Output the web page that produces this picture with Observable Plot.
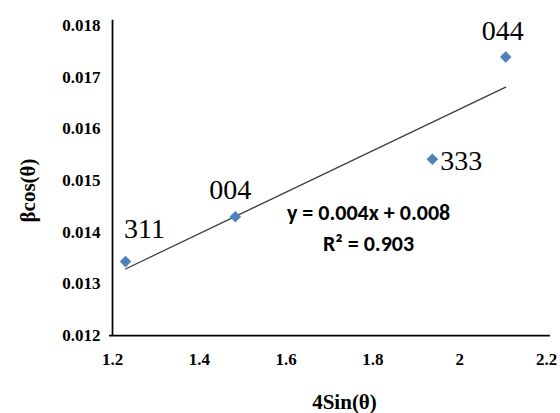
<!DOCTYPE html>
<html>
<head>
<meta charset="utf-8">
<script src="https://cdn.jsdelivr.net/npm/d3@7"></script>
<script src="https://cdn.jsdelivr.net/npm/@observablehq/plot@0.6"></script>
<style>
  html, body { margin: 0; padding: 0; background: #fff; }
  #chart svg { display: block; }
</style>
</head>
<body>
<div id="chart"></div>
<script>
// Williamson–Hall data: reflection, 4 sin(θ) and β cos(θ)
const reflections = ["311", "004", "333", "044"];
const fourSinTheta = [1.230, 1.483, 1.937, 2.106];
const betaCosTheta = [0.01343, 0.01430, 0.01541, 0.01739];

const xTicks = [1.2, 1.4, 1.6, 1.8, 2, 2.2];
const xTickLabels = ["1.2", "1.4", "1.6", "1.8", "2", "2.2"];
const yTicks = [0.012, 0.013, 0.014, 0.015, 0.016, 0.017, 0.018];
const yTickLabels = ["0.012", "0.013", "0.014", "0.015", "0.016", "0.017", "0.018"];

const fitLabel = ["y = 0.004x + 0.008", "R² = 0.903"];
const xTitle = "4Sin(θ)";
const yTitle = "βcos(θ)";

const points = reflections.map((hkl, i) => ({hkl, x: fourSinTheta[i], y: betaCosTheta[i]}));

const serif = "'Liberation Serif', 'Times New Roman', serif";
const sans = "Carlito, Calibri, Lato, sans-serif";

// per-reflection label placement
const labelOffsets = {
  "311": {dx: 19, dy: -33, textAnchor: "middle"},
  "004": {dx: -5, dy: -27, textAnchor: "middle"},
  "333": {dx: 8, dy: 2, textAnchor: "start"},
  "044": {dx: -3, dy: -26, textAnchor: "middle"}
};

const xMin = xTicks[0], xMax = xTicks[xTicks.length - 1];
const yMin = yTicks[0], yMax = yTicks[yTicks.length - 1];

const chart = Plot.plot({
  width: 560,
  height: 413,
  marginLeft: 112,
  marginRight: 14,
  marginTop: 25,
  marginBottom: 78,
  style: {background: "#fff", overflow: "visible"},
  x: {domain: [xMin, xMax]},
  y: {domain: [yMin, yMax]},
  marks: [
    // tick labels only (no tick marks)
    Plot.axisX({
      ticks: xTicks,
      tickFormat: (d) => xTickLabels[xTicks.indexOf(d)],
      tickSize: 0,
      tickPadding: 17,
      label: null,
      fontSize: 17,
      fontWeight: "bold",
      fontFamily: serif,
      fill: "#000"
    }),
    Plot.axisY({
      ticks: yTicks,
      tickFormat: (d) => yTickLabels[yTicks.indexOf(d)],
      tickSize: 0,
      tickPadding: 12,
      label: null,
      fontSize: 17,
      fontWeight: "bold",
      fontFamily: serif,
      fill: "#000"
    }),
    // axis lines
    Plot.ruleY([yMin], {x1: xMin - 0.007, x2: xMax + 0.009, stroke: "#000", strokeWidth: 1.75, clip: false}),
    Plot.ruleX([xMin], {y1: yMin, y2: yMax + 0.0001, stroke: "#000", strokeWidth: 1.75, clip: false}),
    // least-squares trend line
    Plot.linearRegressionY(points, {x: "x", y: "y", ci: 0, stroke: "#3c3c3c", strokeWidth: 1.25}),
    // data points
    Plot.dot(points, {x: "x", y: "y", symbol: "diamond2", r: 5.2, fill: "#4f81bd", stroke: "none"}),
    // reflection labels
    ...reflections.map((hkl) => Plot.text(points, {
      filter: (d) => d.hkl === hkl,
      x: "x", y: "y", text: "hkl",
      ...labelOffsets[hkl],
      lineAnchor: "middle",
      fontSize: 28,
      fontFamily: serif,
      fill: "#000"
    })),
    // fit equation
    Plot.text([fitLabel.join("\n")], {
      x: 1.79, y: 0.01412,
      text: (d) => d,
      textAnchor: "middle",
      lineAnchor: "middle",
      lineHeight: 1.41,
      fontSize: 22,
      fontWeight: "bold",
      fontFamily: sans,
      fill: "#000"
    }),
    // axis titles
    Plot.text([xTitle], {
      frameAnchor: "bottom", text: (d) => d,
      dx: 15, dy: 67, textAnchor: "middle", lineAnchor: "middle",
      fontSize: 21, fontWeight: "bold", fontFamily: serif, fill: "#000"
    }),
    Plot.text([yTitle], {
      frameAnchor: "left", y: () => 0.014807, text: (d) => d,
      dx: -84, rotate: -90, textAnchor: "middle", lineAnchor: "middle",
      fontSize: 21, fontWeight: "bold", fontFamily: serif, fill: "#000"
    })
  ]
});

document.getElementById("chart").append(chart);
</script>
</body>
</html>
